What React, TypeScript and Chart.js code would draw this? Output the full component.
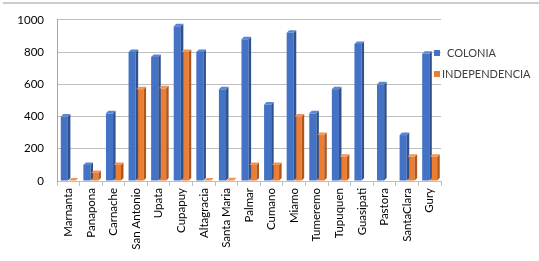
import React, { useEffect, useRef } from "react";
import { Chart, registerables } from "chart.js";

Chart.register(...registerables);

const categories = [
  "Marnanta", "Panapona", "Carnache", "San Antonio", "Upata", "Cupapuy",
  "Altagracia", "Santa Maria", "Palmar", "Cumano", "Miamo", "Tumeremo",
  "Tupuquen", "Guasipati", "Pastora", "SantaClara", "Gury",
];
const colonia = [400, 100, 420, 800, 770, 960, 800, 570, 880, 475, 920, 420, 570, 850, 600, 285, 790];
const independencia = [3, 50, 100, 570, 575, 800, 3, 5, 100, 100, 400, 285, 150, 0, 0, 150, 150];
const yTicks = [0, 200, 400, 600, 800, 1000];

const FONT = "Lato, 'Liberation Sans', sans-serif";

const sidePlugin = {
  id: "side3d",
  afterDatasetsDraw(chart: any) {
    const ctx = chart.ctx;
    const d = 2.5;
    chart.data.datasets.forEach((ds: any, i: number) => {
      const meta = chart.getDatasetMeta(i);
      meta.data.forEach((bar: any, j: number) => {
        if (!ds.data[j]) return;
        const { x, y, base, width } = bar.getProps(["x", "y", "base", "width"], true);
        const l = x - width / 2;
        const r = x + width / 2;
        ctx.save();
        ctx.fillStyle = ds.sideColor;
        ctx.beginPath();
        ctx.moveTo(r, y);
        ctx.lineTo(r + d, y - d);
        ctx.lineTo(r + d, base - d);
        ctx.lineTo(r, base);
        ctx.closePath();
        ctx.fill();
        ctx.fillStyle = ds.topColor;
        ctx.beginPath();
        ctx.moveTo(l, y);
        ctx.lineTo(l + d, y - d);
        ctx.lineTo(r + d, y - d);
        ctx.lineTo(r, y);
        ctx.closePath();
        ctx.fill();
        ctx.restore();
      });
    });
  },
};

export default function App() {
  const ref = useRef<HTMLCanvasElement>(null);
  useEffect(() => {
    if (!ref.current) return;
    const chart = new Chart(ref.current, {
      type: "bar",
      data: {
        labels: categories,
        datasets: [
          {
            label: "COLONIA",
            data: colonia,
            backgroundColor: "#4472C4",
            sideColor: "#2F528F",
            topColor: "#5B86D3",
            categoryPercentage: 0.7,
            barPercentage: 0.9,
          } as any,
          {
            label: "INDEPENDENCIA",
            data: independencia,
            backgroundColor: "#ED7D31",
            sideColor: "#B0561C",
            topColor: "#F29556",
            categoryPercentage: 0.7,
            barPercentage: 0.9,
          } as any,
        ],
      },
      options: {
        animation: false,
        responsive: false,
        maintainAspectRatio: false,
        layout: { padding: { top: 18, right: 98, left: 0, bottom: 0 } },
        plugins: {
          legend: { display: false },
          tooltip: { enabled: false },
        },
        scales: {
          x: {
            grid: { drawOnChartArea: false, offset: true, tickLength: 5, color: "#bfbfbf" },
            border: { color: "#bfbfbf" },
            ticks: {
              minRotation: 90,
              maxRotation: 90,
              color: "#000000",
              padding: 2,
              font: { family: FONT, size: 11.5 },
              autoSkip: false,
            },
            afterFit: (s: any) => { s.height = 80; },
          },
          y: {
            min: 0,
            max: 1000,
            afterBuildTicks: (s: any) => { s.ticks = yTicks.map((v) => ({ value: v })); },
            grid: { color: "#bfbfbf", drawTicks: false },
            border: { color: "#a6a6a6" },
            ticks: {
              color: "#000000",
              padding: 13,
              font: { family: FONT, size: 11.5 },
              callback: (v: any) => String(v),
            },
            afterFit: (s: any) => { s.width = 57; },
          },
        },
      },
      plugins: [sidePlugin],
    } as any);
    return () => chart.destroy();
  }, []);

  return (
    <div style={{ position: "absolute", left: 0, top: 0, width: 539, height: 261, background: "#fff", fontFamily: FONT }}>
      <div style={{ position: "absolute", left: 3, top: 2, width: 536, height: 2, background: "#cccccc" }} />
      <canvas ref={ref} width={539} height={261} style={{ position: "absolute", left: 0, top: 0 }} />
      <div style={{ position: "absolute", left: 434, top: 46, fontSize: 11, color: "#404040", lineHeight: "14px" }}>
        <div style={{ display: "flex", alignItems: "center" }}>
          <span style={{ width: 6, height: 6, background: "#4472C4", display: "inline-block", marginRight: 7 }} />
          <span>COLONIA</span>
        </div>
        <div style={{ display: "flex", alignItems: "center", marginTop: 7 }}>
          <span style={{ width: 6, height: 6, background: "#ED7D31", display: "inline-block", marginRight: 2 }} />
          <span>INDEPENDENCIA</span>
        </div>
      </div>
    </div>
  );
}
